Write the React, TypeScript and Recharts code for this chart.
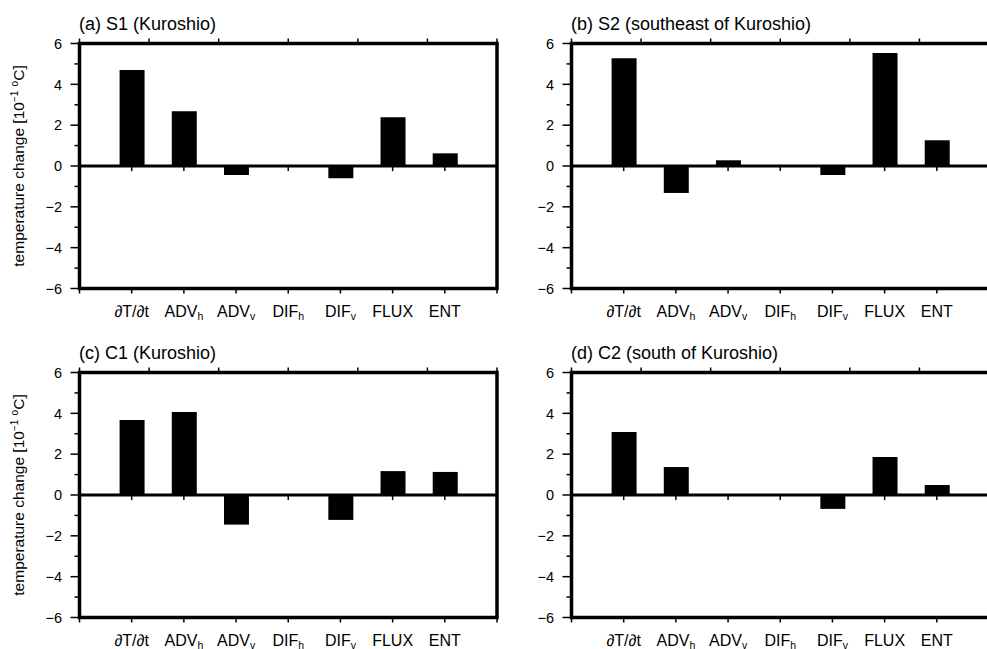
import React from 'react';
import { BarChart, Bar, XAxis, YAxis, ReferenceLine, ReferenceArea } from 'recharts';

// term labels along the x axis (main text + subscript)
const CATEGORIES = ['∂T/∂t', 'ADV', 'ADV', 'DIF', 'DIF', 'FLUX', 'ENT'];
const SUBSCRIPTS = ['', 'h', 'v', 'h', 'v', '', ''];
const X_POS = [1, 2, 3, 4, 5, 6, 7];
const X_TICKS = [0, 1, 2, 3, 4, 5, 6, 7, 8];
const Y_TICKS = [-6, -5, -4, -3, -2, -1, 0, 1, 2, 3, 4, 5, 6];

// temperature change [10^-1 degC] per term
const S1 = [4.7, 2.68, -0.44, 0, -0.6, 2.39, 0.62];
const S2 = [5.28, -1.32, 0.28, 0, -0.44, 5.53, 1.26];
const C1 = [3.67, 4.06, -1.45, 0, -1.22, 1.17, 1.13];
const C2 = [3.08, 1.37, 0, 0, -0.68, 1.86, 0.49];

const PANELS = [
  { title: '(a) S1 (Kuroshio)', values: S1, yLabel: true },
  { title: '(b) S2 (southeast of Kuroshio)', values: S2, yLabel: false },
  { title: '(c) C1 (Kuroshio)', values: C1, yLabel: true },
  { title: '(d) C2 (south of Kuroshio)', values: C2, yLabel: false },
];

const FONT = '"Liberation Sans", Arial, Helvetica, sans-serif';
const W = 530;
const H = 329;

const fmt = (v: number) => (v < 0 ? `\u2212${-v}` : `${v}`);

function BottomTick({ x, y, payload }: any) {
  const i = X_POS.indexOf(payload.value);
  return (
    <g>
      <line x1={x} x2={x} y1={y} y2={y + 5} stroke="#000" strokeWidth={1.5} />
      {i >= 0 && (
        <text x={x} y={y + 28} textAnchor="middle" fontSize={16} fontFamily={FONT} fill="#000">
          {CATEGORIES[i]}
          {SUBSCRIPTS[i] && (
            <tspan dy={3.5} fontSize={10.5}>
              {SUBSCRIPTS[i]}
            </tspan>
          )}
        </text>
      )}
    </g>
  );
}

function TopTick({ x, y }: any) {
  return <line x1={x} x2={x} y1={y - 5} y2={y} stroke="#000" strokeWidth={1.5} />;
}

function LeftTick({ x, y, payload }: any) {
  const v = payload.value;
  const major = v % 2 === 0;
  return (
    <g>
      <line x1={x - (major ? 9 : 5)} x2={x} y1={y} y2={y} stroke="#000" strokeWidth={1.5} />
      {major && (
        <text x={x - 17.5} y={y} dy="0.36em" textAnchor="end" fontSize={14.5} fontFamily={FONT} fill="#000">
          {fmt(v)}
        </text>
      )}
    </g>
  );
}

function RightTick({ x, y, payload }: any) {
  const major = payload.value % 2 === 0;
  return <line x1={x} x2={x + (major ? 9 : 5)} y1={y} y2={y} stroke="#000" strokeWidth={1.5} />;
}

function YLabel({ viewBox }: any) {
  const cx = viewBox.x + 18.5;
  const cy = viewBox.y + viewBox.height / 2;
  return (
    <text
      x={cx}
      y={cy}
      dy="0.35em"
      textAnchor="middle"
      transform={`rotate(-90 ${cx} ${cy})`}
      fontSize={15.5}
      fontFamily={FONT}
      fill="#000"
    >
      temperature change [10
      <tspan dy={-6} fontSize={10}>
        {'\u22121'}
      </tspan>
      <tspan dy={6}> </tspan>
      <tspan dy={-6} fontSize={10}>
        o
      </tspan>
      <tspan dy={6}>C]</tspan>
    </text>
  );
}

function Panel({ values, yLabel }: { values: number[]; yLabel: boolean }) {
  const data = X_POS.map((x, i) => ({ x, v: values[i] }));
  return (
    <BarChart width={W} height={H} data={data} margin={{ top: 33.5, right: 21, bottom: 10.5, left: 0 }}>
      <XAxis
        xAxisId="bottom"
        dataKey="x"
        type="number"
        domain={[0, 8]}
        ticks={X_TICKS}
        interval={0}
        height={30}
        tickSize={0}
        tickMargin={0}
        tickLine={false}
        axisLine={false}
        tick={(p: any) => <BottomTick {...p} />}
      />
      <XAxis
        xAxisId="top"
        orientation="top"
        type="number"
        domain={[0, 8]}
        ticks={X_TICKS}
        interval={0}
        height={10}
        tickSize={0}
        tickMargin={0}
        tickLine={false}
        axisLine={false}
        tick={(p: any) => <TopTick {...p} />}
      />
      <YAxis
        yAxisId="left"
        type="number"
        domain={[-6, 6]}
        ticks={Y_TICKS}
        interval={0}
        width={79.5}
        tickSize={0}
        tickMargin={0}
        tickLine={false}
        axisLine={false}
        tick={(p: any) => <LeftTick {...p} />}
        label={yLabel ? (p: any) => <YLabel {...p} /> : undefined}
      />
      <YAxis
        yAxisId="right"
        orientation="right"
        type="number"
        domain={[-6, 6]}
        ticks={Y_TICKS}
        interval={0}
        width={12}
        tickSize={0}
        tickMargin={0}
        tickLine={false}
        axisLine={false}
        tick={(p: any) => <RightTick {...p} />}
      />
      <Bar xAxisId="bottom" yAxisId="left" dataKey="v" fill="#000" barSize={25} isAnimationActive={false} />
      <ReferenceLine xAxisId="bottom" yAxisId="left" y={0} stroke="#000" strokeWidth={3} />
      {X_POS.map((x) => (
        <ReferenceLine
          key={x}
          xAxisId="bottom"
          yAxisId="left"
          segment={[
            { x, y: 0 },
            { x, y: -0.25 },
          ]}
          stroke="#000"
          strokeWidth={1.5}
        />
      ))}
      <ReferenceArea
        xAxisId="bottom"
        yAxisId="left"
        x1={0}
        x2={8}
        y1={-6}
        y2={6}
        fill="none"
        fillOpacity={0}
        stroke="#000"
        strokeWidth={3.5}
        ifOverflow="visible"
      />
    </BarChart>
  );
}

export default function App() {
  return (
    <div
      style={{
        position: 'absolute',
        left: 0,
        top: 0,
        width: 987,
        height: 649,
        overflow: 'hidden',
        background: '#fff',
        fontFamily: FONT,
      }}
    >
      {PANELS.map((p, i) => {
        const left = (i % 2) * 492;
        const top = Math.floor(i / 2) * 329;
        return (
          <React.Fragment key={p.title}>
            <div style={{ position: 'absolute', left, top }}>
              <Panel values={p.values} yLabel={p.yLabel} />
            </div>
            <div
              style={{
                position: 'absolute',
                left: left + 79,
                top: top + 14.5,
                fontSize: 18,
                lineHeight: '18px',
                whiteSpace: 'nowrap',
                color: '#000',
              }}
            >
              {p.title}
            </div>
          </React.Fragment>
        );
      })}
    </div>
  );
}
